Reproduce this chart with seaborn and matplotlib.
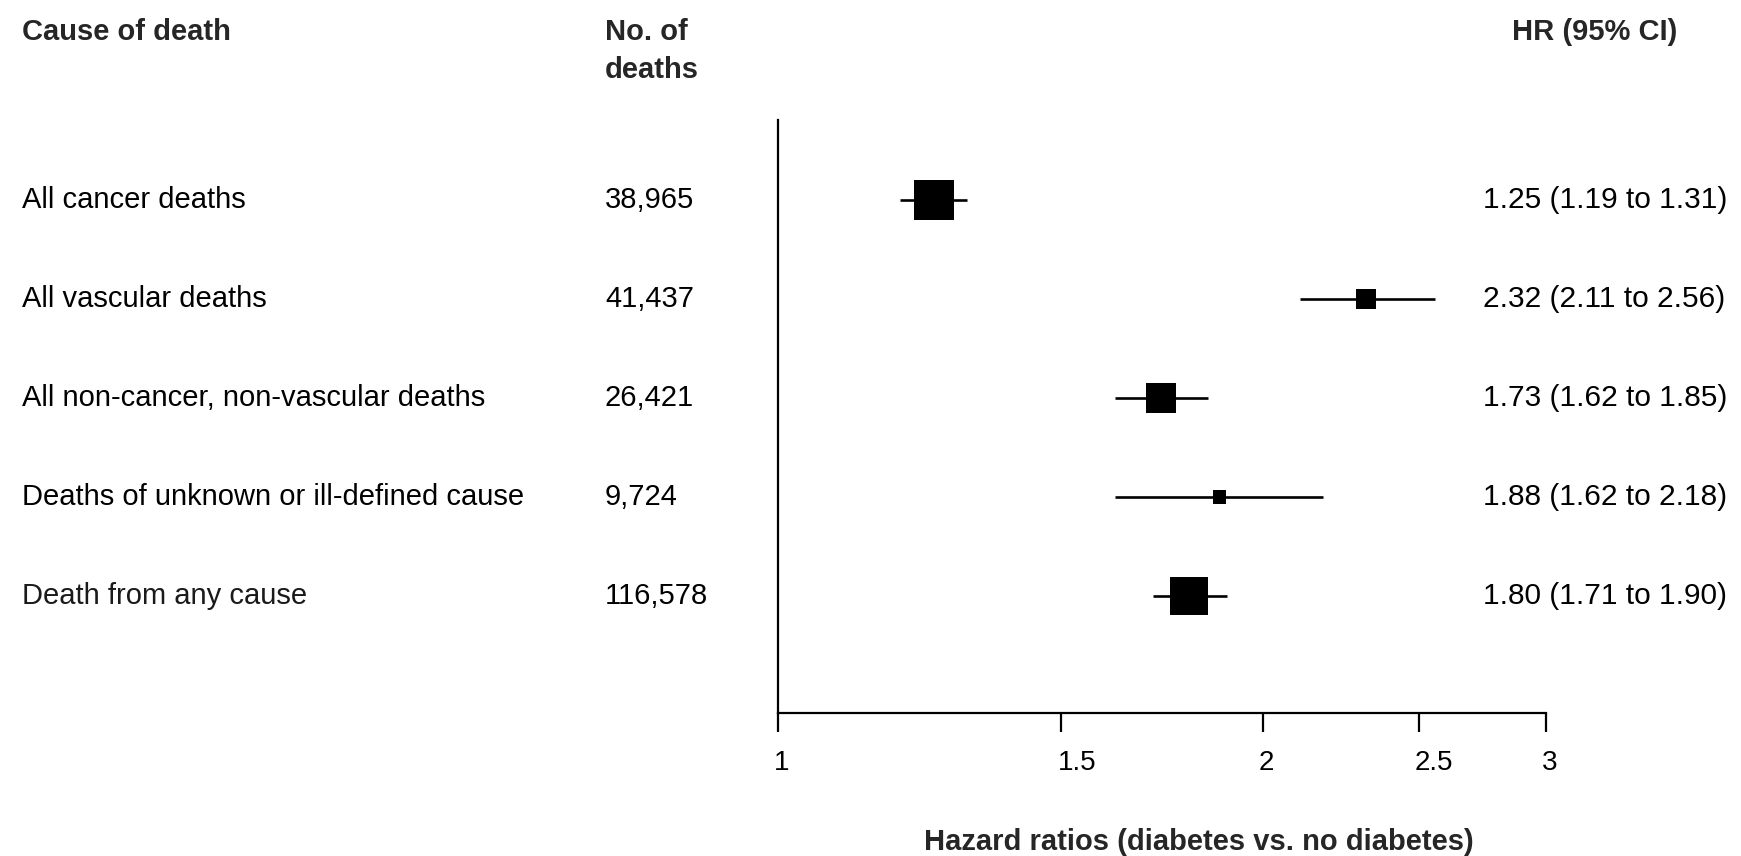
import numpy as np
import pandas as pd
import matplotlib
matplotlib.use("Agg")
import matplotlib.pyplot as plt
from matplotlib.transforms import blended_transform_factory, ScaledTranslation
from matplotlib.ticker import FixedLocator, FixedFormatter, NullLocator
import seaborn as sns

# forest plot data
causes = ["All cancer deaths",
          "All vascular deaths",
          "All non-cancer, non-vascular deaths",
          "Deaths of unknown or ill-defined cause",
          "Death from any cause"]
n_deaths = ["38,965", "41,437", "26,421", "9,724", "116,578"]
hr = [1.25, 2.32, 1.73, 1.88, 1.80]
ci_low = [1.19, 2.11, 1.62, 1.62, 1.71]
ci_high = [1.31, 2.56, 1.85, 2.18, 1.90]

x_ticks = [1, 1.5, 2, 2.5, 3]
x_tick_labels = ["1", "1.5", "2", "2.5", "3"]

sns.set_theme(style="white")
plt.rcParams["font.family"] = ["Liberation Sans", "DejaVu Sans"]

df = pd.DataFrame({"cause": causes, "deaths": n_deaths, "hr": hr,
                   "lo": ci_low, "hi": ci_high})
df["row"] = np.arange(len(df))
# box side proportional to 1/SE of the log HR
df["se"] = (np.log(df["hi"]) - np.log(df["lo"])) / (2 * 1.96)
df["side"] = 0.72 / df["se"]
df["label"] = ["%.2f (%.2f to %.2f)" % (h, l, u) for h, l, u in zip(df.hr, df.lo, df.hi)]

W, H = 1741, 856
fig = plt.figure(figsize=(W / 100, H / 100), dpi=100)
ax = fig.add_axes([778 / W, 1 - 713 / H, (1546 - 778) / W, (713 - 120) / H])

ax.hlines(df["row"], df["lo"], df["hi"], color="black", lw=1.9, zorder=2)
sns.scatterplot(data=df, x="hr", y="row", marker="s", s=df["side"] ** 2,
                color="black", linewidth=0, ax=ax, zorder=3, legend=False)

ax.set_xscale("log")
ax.set_xlim(1, 3)
ax.set_ylim(4 + (713 - 596) / 99, -(200 - 120) / 99)
ax.xaxis.set_major_locator(FixedLocator(x_ticks))
ax.xaxis.set_major_formatter(FixedFormatter(x_tick_labels))
ax.xaxis.set_minor_locator(NullLocator())
ax.set_yticks([])
ax.set_xlabel("")
ax.set_ylabel("")
sns.despine(ax=ax)
for side in ["left", "bottom"]:
    ax.spines[side].set_linewidth(1.6)
    ax.spines[side].set_color("black")
ax.tick_params(axis="x", bottom=True, length=14, width=1.6, color="black",
               pad=12.5, labelsize=20, labelcolor="black")
shift = ScaledTranslation(-4 / 100, 0, fig.dpi_scale_trans)
for lab in ax.get_xticklabels():
    lab.set_ha("left")
    lab.set_transform(lab.get_transform() + shift)

trans = blended_transform_factory(fig.transFigure, ax.transData)
for _, r in df.iterrows():
    col = "#1a1a1a" if r.row == 4 else "black"
    ax.text(22 / W, r.row, r.cause, transform=trans, ha="left", va="center",
            fontsize=21, color=col)
    ax.text(605 / W, r.row, r.deaths, transform=trans, ha="left", va="center",
            fontsize=21, color="black")
    ax.text(1483 / W, r.row, r.label, transform=trans, ha="left", va="center",
            fontsize=21.5, color="black")

fig.text(22 / W, 1 - 32 / H, "Cause of death", ha="left", va="center",
         fontsize=21, fontweight="bold")
fig.text(605 / W, 1 - 32 / H, "No. of", ha="left", va="center",
         fontsize=21, fontweight="bold")
fig.text(605 / W, 1 - 70 / H, "deaths", ha="left", va="center",
         fontsize=21, fontweight="bold")
fig.text(1677 / W, 1 - 32 / H, "HR (95% CI)", ha="right", va="center",
         fontsize=21, fontweight="bold")
fig.text(1199 / W, 1 - 842 / H, "Hazard ratios (diabetes vs. no diabetes)",
         ha="center", va="center", fontsize=21, fontweight="bold")

fig.savefig("out.png", dpi=100)
